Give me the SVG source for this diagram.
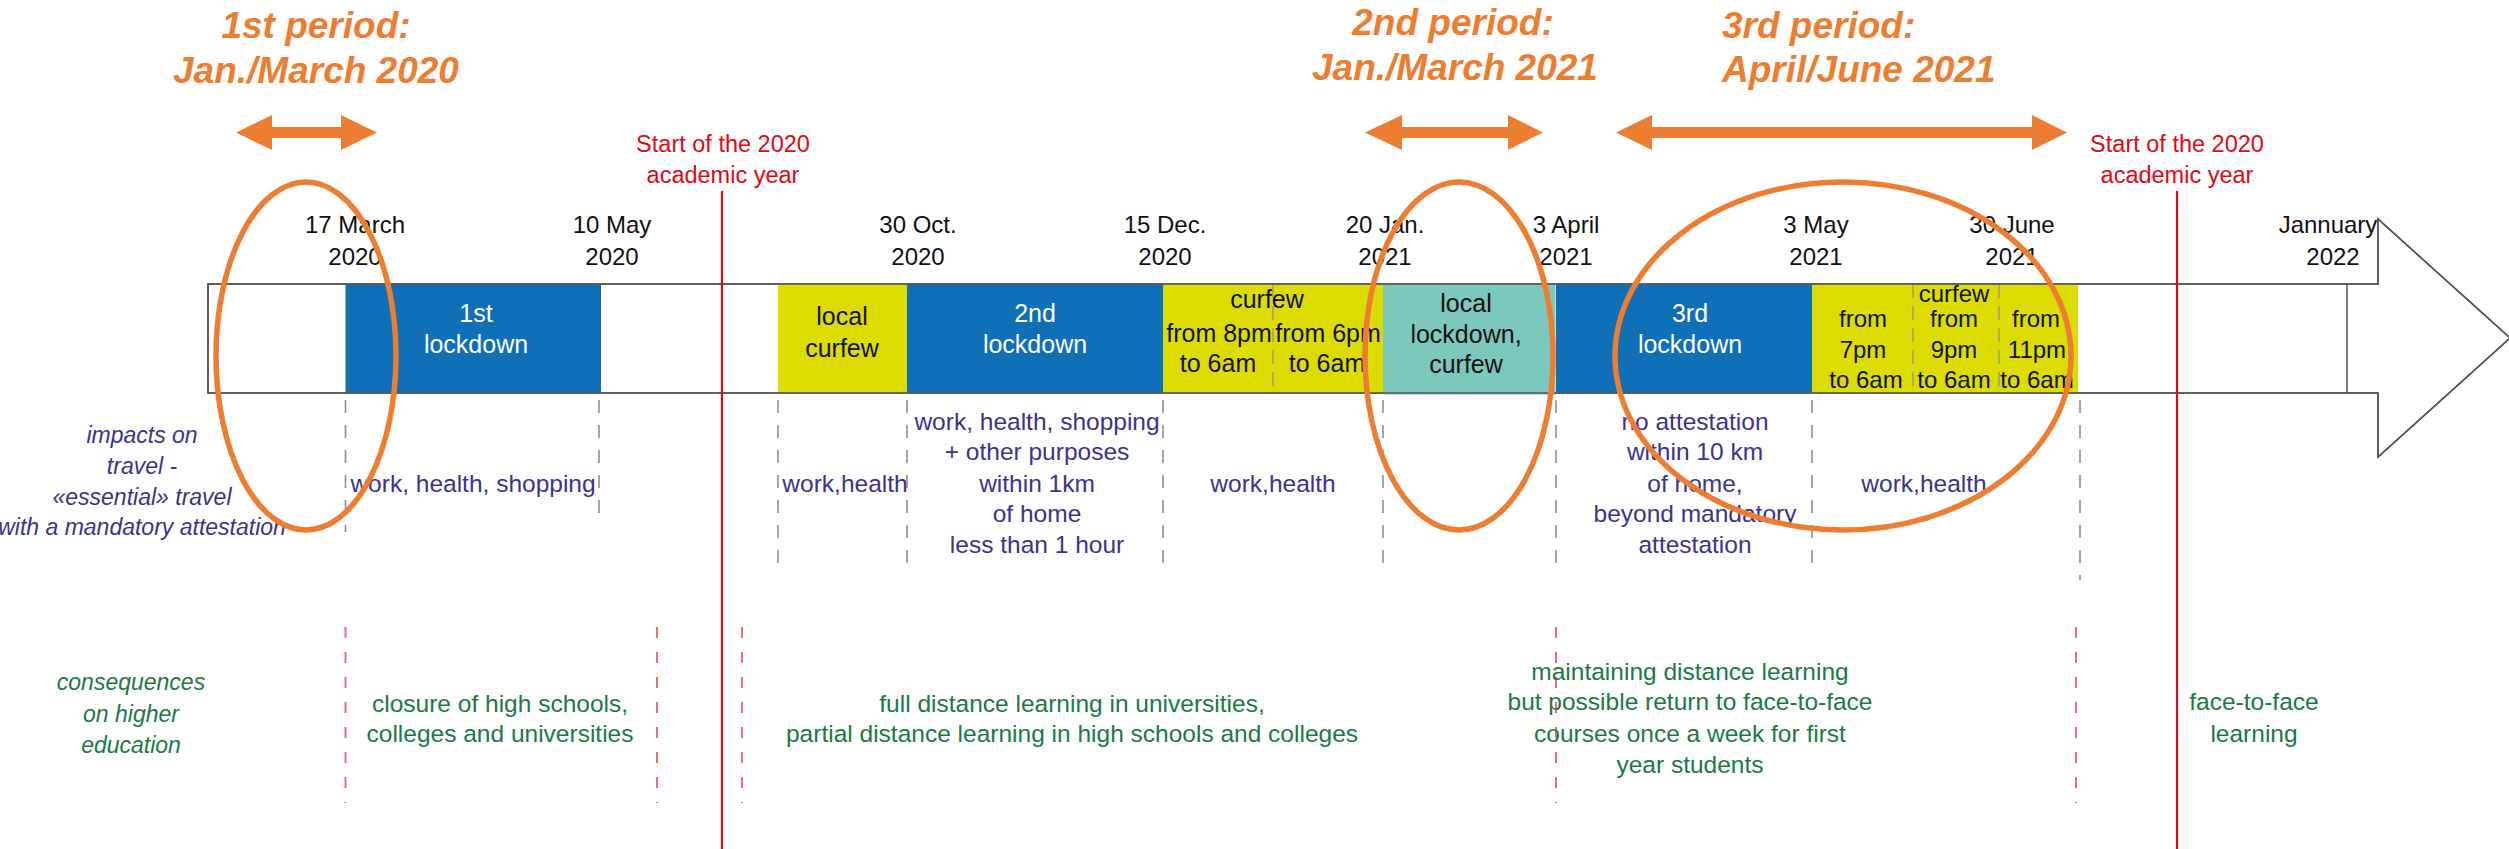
<svg xmlns="http://www.w3.org/2000/svg" width="2509" height="849" viewBox="0 0 2509 849">
<style>
text{font-family:"Liberation Sans",Arial,sans-serif;text-anchor:middle}
.title{font-size:37px;font-weight:bold;font-style:italic;fill:#ED7D31}
.red{font-size:23.5px;fill:#E30613}
.date{font-size:24px;fill:#111}
.wt{font-size:25px;fill:#fff}
.bk{font-size:25px;fill:#111}
.bk24{font-size:24px;fill:#111}
.ind{font-size:24.5px;fill:#3A3390}
.indi{font-size:23px;fill:#3A3390;font-style:italic}
.grn{font-size:24.5px;fill:#1A7A42}
.grni{font-size:23px;fill:#1A7A42;font-style:italic}
.blue{fill:#0F6FB7}
.yel{fill:#DCDC00}
.teal{fill:#7CC8BC}
.gdash{stroke:#8f8f8f;stroke-width:1.6;stroke-dasharray:13 12;fill:none}
.rdash{stroke:#F06A7A;stroke-width:2;stroke-dasharray:11 14;fill:none}
.rline{stroke:#E30613;stroke-width:2.2;fill:none}
.div{stroke:#8f8f8f;stroke-width:1.2;stroke-dasharray:14 8;fill:none}
.ell{fill:none;stroke:#ED7D31;stroke-width:5.5}
.oarrow{fill:#ED7D31}
</style>

<g id="timeline-bar">
<path d="M208,284 L2378,284 L2378,219 L2510,338 L2378,457 L2378,393 L208,393 Z" fill="#fff" stroke="#555" stroke-width="1.5"/>
</g>

<g id="lockdown1"><rect class="blue" x="345.5" y="284.5" width="255.5" height="108"/><text class="wt" x="476" y="322">1st</text><text class="wt" x="476" y="353">lockdown</text></g>
<g id="local-curfew"><rect class="yel" x="778" y="284.5" width="129" height="108"/><text class="bk" x="842" y="325">local</text><text class="bk" x="842" y="357">curfew</text></g>
<g id="lockdown2"><rect class="blue" x="907" y="284.5" width="256" height="108"/><text class="wt" x="1035" y="322">2nd</text><text class="wt" x="1035" y="353">lockdown</text></g>
<g id="curfew-8-6"><rect class="yel" x="1163" y="284.5" width="220" height="108"/>
<line class="div" x1="1273" y1="284" x2="1273" y2="393"/>
<text class="bk" x="1267" y="308">curfew</text>
<text class="bk" x="1219" y="342">from 8pm</text><text class="bk" x="1328" y="342">from 6pm</text>
<text class="bk" x="1218" y="372">to 6am</text><text class="bk" x="1327" y="372">to 6am</text></g>
<g id="local-lockdown"><rect class="teal" x="1383" y="284.5" width="172.5" height="110"/><text class="bk" x="1466" y="312">local</text><text class="bk" x="1466" y="343">lockdown,</text><text class="bk" x="1466" y="373">curfew</text></g>
<g id="lockdown3"><rect class="blue" x="1556" y="284.5" width="256" height="108"/><text class="wt" x="1690" y="322">3rd</text><text class="wt" x="1690" y="353">lockdown</text></g>
<g id="curfew-2021"><rect class="yel" x="1812" y="284.5" width="266" height="108"/>
<line class="div" x1="1913" y1="284" x2="1913" y2="393"/>
<line class="div" x1="1999" y1="284" x2="1999" y2="393"/>
<text class="bk24" x="1863" y="327">from</text><text class="bk24" x="1863" y="358">7pm</text><text class="bk24" x="1866" y="388">to 6am</text>
<text class="bk24" x="1954" y="302">curfew</text><text class="bk24" x="1954" y="327">from</text><text class="bk24" x="1954" y="358">9pm</text><text class="bk24" x="1954" y="388">to 6am</text>
<text class="bk24" x="2036" y="327">from</text><text class="bk24" x="2037" y="358">11pm</text><text class="bk24" x="2037" y="388">to 6am</text></g>
<g id="bar-outline">
<path d="M208,284 L2378,284 L2378,219 L2510,338 L2378,457 L2378,393 L208,393 Z" fill="none" stroke="#555" stroke-width="1.5"/>
<line x1="2347" y1="284" x2="2347" y2="393" stroke="#555" stroke-width="1.5"/>
</g>

<g id="dates">
<text class="date" x="355" y="233">17 March</text><text class="date" x="355" y="265">2020</text>
<text class="date" x="612" y="233">10 May</text><text class="date" x="612" y="265">2020</text>
<text class="date" x="918" y="233">30 Oct.</text><text class="date" x="918" y="265">2020</text>
<text class="date" x="1165" y="233">15 Dec.</text><text class="date" x="1165" y="265">2020</text>
<text class="date" x="1385" y="233">20 Jan.</text><text class="date" x="1385" y="265">2021</text>
<text class="date" x="1566" y="233">3 April</text><text class="date" x="1566" y="265">2021</text>
<text class="date" x="1816" y="233">3 May</text><text class="date" x="1816" y="265">2021</text>
<text class="date" x="2012" y="233">30 June</text><text class="date" x="2012" y="265">2021</text>
<text class="date" x="2328" y="233">Jannuary</text><text class="date" x="2333" y="265">2022</text>
</g>

<g id="period1"><text class="title" x="316" y="38">1st period:</text><text class="title" x="316" y="83">Jan./March 2020</text>
<path class="oarrow" d="M236,132.5 L272,115 L272,127 L341,127 L341,115 L377,132.5 L341,150 L341,138 L272,138 L272,150 Z"/></g>
<g id="period2"><text class="title" x="1453" y="35">2nd period:</text><text class="title" x="1455" y="80">Jan./March 2021</text>
<path class="oarrow" d="M1365,132.5 L1402,115 L1402,127 L1508,127 L1508,115 L1543,132.5 L1508,150 L1508,138 L1402,138 L1402,150 Z"/></g>
<g id="period3"><text class="title" x="1722" y="38" style="text-anchor:start">3rd period:</text><text class="title" x="1722" y="82" style="text-anchor:start">April/June 2021</text>
<path class="oarrow" d="M1616,132.5 L1652,115 L1652,127 L2032,127 L2032,115 L2067,132.5 L2032,150 L2032,138 L1652,138 L1652,150 Z"/></g>

<g id="academic-2020"><text class="red" x="723" y="152">Start of the 2020</text><text class="red" x="723" y="183">academic year</text></g>
<g id="academic-2021"><text class="red" x="2177" y="152">Start of the 2020</text><text class="red" x="2177" y="183">academic year</text></g>

<g id="connectors">
<line class="gdash" x1="345.5" y1="400" x2="345.5" y2="532"/>
<line class="gdash" x1="599" y1="400" x2="599" y2="525"/>
<line class="gdash" x1="778" y1="400" x2="778" y2="572"/>
<line class="gdash" x1="907" y1="400" x2="907" y2="572"/>
<line class="gdash" x1="1163" y1="400" x2="1163" y2="572"/>
<line class="gdash" x1="1383" y1="400" x2="1383" y2="572"/>
<line class="gdash" x1="1556" y1="400" x2="1556" y2="572"/>
<line class="gdash" x1="1812" y1="400" x2="1812" y2="572"/>
<line class="gdash" x1="2080" y1="400" x2="2080" y2="580"/>
<line class="rdash" x1="345.5" y1="627" x2="345.5" y2="803"/>
<line class="rdash" x1="657" y1="627" x2="657" y2="803"/>
<line class="rdash" x1="742" y1="627" x2="742" y2="803"/>
<line class="rdash" x1="1556" y1="627" x2="1556" y2="803"/>
<line class="rdash" x1="2076" y1="627" x2="2076" y2="803"/>
<line class="rline" x1="722" y1="191" x2="722" y2="849"/>
<line class="rline" x1="2177" y1="191" x2="2177" y2="849"/>
</g>

<g id="impacts-label"><text class="indi" x="142" y="443">impacts on</text><text class="indi" x="142" y="474">travel -</text><text class="indi" x="142" y="505">«essential» travel</text><text class="indi" x="142" y="535">with a mandatory attestation</text></g>
<g id="impacts-1"><text class="ind" x="473" y="492">work, health, shopping</text></g>
<g id="impacts-2"><text class="ind" x="845" y="492">work,health</text></g>
<g id="impacts-3"><text class="ind" x="1037" y="430">work, health, shopping</text><text class="ind" x="1037" y="460">+ other purposes</text><text class="ind" x="1037" y="492">within 1km</text><text class="ind" x="1037" y="522">of home</text><text class="ind" x="1037" y="553">less than 1 hour</text></g>
<g id="impacts-4"><text class="ind" x="1273" y="492">work,health</text></g>
<g id="impacts-5"><text class="ind" x="1695" y="430">no attestation</text><text class="ind" x="1695" y="460">within 10 km</text><text class="ind" x="1695" y="492">of home,</text><text class="ind" x="1695" y="522">beyond mandatory</text><text class="ind" x="1695" y="553">attestation</text></g>
<g id="impacts-6"><text class="ind" x="1924" y="492">work,health</text></g>

<g id="consequences-label"><text class="grni" x="131" y="690">consequences</text><text class="grni" x="131" y="722">on higher</text><text class="grni" x="131" y="753">education</text></g>
<g id="consequences-1"><text class="grn" x="500" y="712">closure of high schools,</text><text class="grn" x="500" y="742">colleges and universities</text></g>
<g id="consequences-2"><text class="grn" x="1072" y="712">full distance learning in universities,</text><text class="grn" x="1072" y="742">partial distance learning in high schools and colleges</text></g>
<g id="consequences-3"><text class="grn" x="1690" y="680">maintaining distance learning</text><text class="grn" x="1690" y="710">but possible return to face-to-face</text><text class="grn" x="1690" y="742">courses once a week for first</text><text class="grn" x="1690" y="773">year students</text></g>
<g id="consequences-4"><text class="grn" x="2254" y="710">face-to-face</text><text class="grn" x="2254" y="742">learning</text></g>

<g id="highlights">
<ellipse class="ell" cx="306" cy="356" rx="90" ry="174"/>
<ellipse class="ell" cx="1459" cy="356" rx="94" ry="174"/>
<ellipse class="ell" cx="1843" cy="356" rx="228" ry="174"/>
</g>
</svg>
